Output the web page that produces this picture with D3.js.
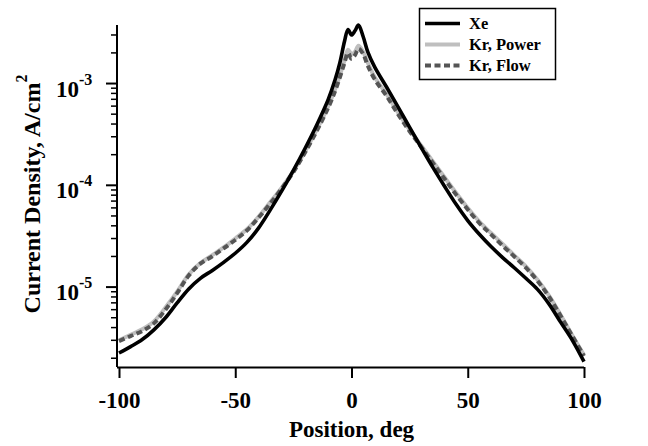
<!DOCTYPE html>
<html><head><meta charset="utf-8">
<script src="https://cdn.jsdelivr.net/npm/d3@7"></script>
<style>body{margin:0;background:#fff}svg{display:block}text{font-family:"Liberation Serif","Times New Roman",serif;font-weight:bold;fill:#000}</style>
</head><body><svg id="c" width="648" height="446"></svg>
<script>
const positions = [-100,-95,-90,-85,-80,-75,-70,-65,-60,-55,-50,-45,-40,-35,-30,-25,-20,-15,-10,-7,-5,-3,-1.5,0,1.5,3,5,7,10,15,20,25,30,35,40,45,50,55,60,65,70,75,80,85,90,95,100];
const xeValues = [2.25e-6,2.6e-6,3.05e-6,3.8e-6,5.0e-6,7.0e-6,9.6e-6,1.22e-5,1.45e-5,1.75e-5,2.15e-5,2.75e-5,3.8e-5,5.7e-5,8.8e-5,1.4e-4,2.3e-4,3.9e-4,7.0e-4,1.1e-3,1.6e-3,2.6e-3,3.4e-3,3.0e-3,3.3e-3,3.75e-3,2.9e-3,2.05e-3,1.45e-3,9.3e-4,5.9e-4,3.7e-4,2.35e-4,1.5e-4,9.8e-5,6.5e-5,4.5e-5,3.3e-5,2.5e-5,1.95e-5,1.55e-5,1.22e-5,9.5e-6,6.8e-6,4.5e-6,3.0e-6,1.85e-6];
const krPowerValues = [3.0e-6,3.4e-6,3.85e-6,4.6e-6,6.3e-6,9.0e-6,1.33e-5,1.72e-5,2.05e-5,2.45e-5,3.0e-5,3.7e-5,4.9e-5,6.8e-5,9.5e-5,1.38e-4,2.15e-4,3.5e-4,6.0e-4,8.9e-4,1.2e-3,1.7e-3,2.15e-3,1.95e-3,2.05e-3,2.35e-3,2.05e-3,1.6e-3,1.15e-3,7.9e-4,5.2e-4,3.5e-4,2.45e-4,1.72e-4,1.2e-4,8.4e-5,6.0e-5,4.4e-5,3.4e-5,2.65e-5,2.05e-5,1.6e-5,1.18e-5,8.2e-6,5.3e-6,3.35e-6,2.15e-6];
const krFlowValues = [2.95e-6,3.3e-6,3.7e-6,4.4e-6,6.0e-6,8.7e-6,1.3e-5,1.7e-5,2.0e-5,2.4e-5,2.9e-5,3.6e-5,4.8e-5,6.6e-5,9.3e-5,1.35e-4,2.1e-4,3.4e-4,5.8e-4,8.5e-4,1.15e-3,1.6e-3,2.0e-3,1.75e-3,1.9e-3,2.2e-3,1.95e-3,1.5e-3,1.1e-3,7.6e-4,5.0e-4,3.4e-4,2.38e-4,1.66e-4,1.16e-4,8.1e-5,5.8e-5,4.25e-5,3.3e-5,2.55e-5,2.0e-5,1.55e-5,1.15e-5,8.0e-6,5.2e-6,3.3e-6,2.1e-6];
const xTicks = [-100,-50,0,50,100];
const yMajorTicks = [1e-5,1e-4,1e-3];
const yTickExponents = ["-5","-4","-3"];
const seriesNames = ["Xe","Kr, Power","Kr, Flow"];

const svg = d3.select("#c");
const x = d3.scaleLinear().domain([-100,100]).range([119,584]);
const y = d3.scaleLog().domain([1.64e-6,3.76e-3]).range([367,25]);

const styles = {
  "Xe": {stroke:"#000", width:3.6, dash:null},
  "Kr, Power": {stroke:"#bfbfbf", width:4, dash:null},
  "Kr, Flow": {stroke:"#555", width:4, dash:"6,3.5"}
};
const series = [
  {name:"Kr, Power", values:krPowerValues},
  {name:"Kr, Flow", values:krFlowValues},
  {name:"Xe", values:xeValues}
];
const line = d3.line().x(d=>x(d[0])).y(d=>y(d[1])).curve(d3.curveCatmullRom.alpha(0.5));
series.forEach(s=>{
  const st = styles[s.name];
  svg.append("path").datum(positions.map((p,i)=>[p,s.values[i]]))
    .attr("d",line).attr("fill","none").attr("stroke",st.stroke)
    .attr("stroke-width",st.width).attr("stroke-dasharray",st.dash)
    .attr("stroke-linejoin","round");
});

// axes
const xAxis = d3.axisBottom(x).tickValues(xTicks).tickSize(11).tickFormat(d3.format("d"));
const gx = svg.append("g").attr("transform","translate(0,367)").call(xAxis);
gx.select(".domain").attr("d","M117,0.5H584").attr("stroke","#000").attr("stroke-width",2);
gx.selectAll(".tick line").attr("stroke","#000").attr("stroke-width",2);
gx.selectAll(".tick text").attr("font-size",23).attr("dy",null).attr("y",41)
  .text(d=>d<0?"-"+Math.abs(d):d).style("font-family","Liberation Serif").style("font-weight","bold").style("fill","#000");

const gy = svg.append("g").attr("transform","translate(117,0)");
gy.append("line").attr("x1",0).attr("x2",0).attr("y1",25).attr("y2",367).attr("stroke","#000").attr("stroke-width",2);
const minor = y.ticks().filter(t=>!yMajorTicks.some(m=>Math.abs(m-t)/m<1e-6));
gy.selectAll(".mn").data(minor).join("line").attr("x1",-6).attr("x2",0)
  .attr("y1",d=>y(d)).attr("y2",d=>y(d)).attr("stroke","#000").attr("stroke-width",1.5);
gy.selectAll(".mj").data(yMajorTicks).join("line").attr("x1",-11).attr("x2",0)
  .attr("y1",d=>y(d)).attr("y2",d=>y(d)).attr("stroke","#000").attr("stroke-width",2);
const lab = gy.selectAll(".lb").data(yMajorTicks).join("text")
  .attr("x",-61).attr("y",d=>y(d)+13).attr("font-size",23);
lab.append("tspan").text("10");
lab.append("tspan").text((d,i)=>yTickExponents[i]).attr("font-size",16).attr("dy",-12);

// titles
svg.append("text").attr("x",351.5).attr("y",437).attr("text-anchor","middle").attr("font-size",23).text("Position, deg");
const yt = svg.append("text").attr("transform","translate(40,194) rotate(-90)").attr("text-anchor","middle").attr("font-size",24);
yt.append("tspan").text("Current Density, A/cm");
yt.append("tspan").text("2").attr("font-size",16).attr("dy",-13);

// legend
const lg = svg.append("g");
lg.append("rect").attr("x",419.5).attr("y",8.5).attr("width",136).attr("height",71).attr("fill","#fff").attr("stroke","#000").attr("stroke-width",1.5);
seriesNames.forEach((n,i)=>{
  const st = styles[n];
  const yy = 23.5 + i*21;
  lg.append("line").attr("x1",425).attr("x2",460).attr("y1",yy).attr("y2",yy)
    .attr("stroke",st.stroke).attr("stroke-width",st.width).attr("stroke-dasharray",st.dash);
  lg.append("text").attr("x",469).attr("y",yy+5.5).attr("font-size",16.5).text(n);
});
</script></body></html>
